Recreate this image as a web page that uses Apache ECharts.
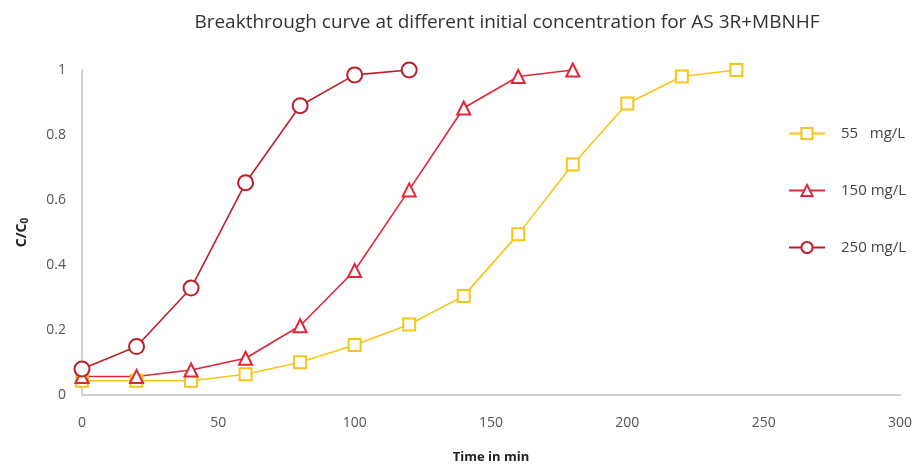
<!DOCTYPE html>
<html>
<head>
<meta charset="utf-8">
<script src="https://cdn.jsdelivr.net/npm/echarts@6/dist/echarts.min.js"></script>
<style>html,body{margin:0;padding:0;background:#fff}#c{width:915px;height:469px}</style>
</head>
<body>
<div id="c"></div>
<script>
var times55 = [0, 20, 40, 60, 80, 100, 120, 140, 160, 180, 200, 220, 240];
var vals55 = [0.044, 0.044, 0.044, 0.064, 0.101, 0.154, 0.217, 0.305, 0.495, 0.709, 0.897, 0.980, 1.0];
var times150 = [0, 20, 40, 60, 80, 100, 120, 140, 160, 180];
var vals150 = [0.057, 0.057, 0.077, 0.113, 0.213, 0.383, 0.631, 0.883, 0.980, 1.0];
var times250 = [0, 20, 40, 60, 80, 100, 120];
var vals250 = [0.080, 0.149, 0.329, 0.653, 0.890, 0.985, 1.0];
var seriesNames = ['55   mg/L', '150 mg/L', '250 mg/L'];
var titleText = 'Breakthrough curve at different initial concentration for AS 3R+MBNHF';

function pairs(xs, ys) { return xs.map(function (x, i) { return [x, ys[i]]; }); }

var chart = echarts.init(document.getElementById('c'), null, {renderer: 'canvas'});
var font = '"Open Sans", sans-serif';
chart.setOption({
  animation: false,
  backgroundColor: '#fff',
  title: {
    text: titleText, left: 502, top: 8, textAlign: 'center',
    textStyle: {fontFamily: font, fontSize: 19, fontWeight: 'normal', color: '#333'}
  },
  legend: {
    orient: 'vertical', left: 783, top: 121, itemGap: 42, itemWidth: 36, itemHeight: 14,
    textStyle: {fontFamily: font, fontSize: 15, color: '#444', padding: [0, 0, 0, 11]},
    data: seriesNames
  },
  grid: {left: 82, right: 15, top: 70, bottom: 72},
  xAxis: {
    type: 'value', min: 0, max: 300, interval: 50,
    name: 'Time in min', nameLocation: 'middle', nameGap: 56,
    nameTextStyle: {fontFamily: font, fontSize: 13, fontWeight: 'bold', color: '#222'},
    axisLine: {show: true, lineStyle: {color: '#d0d0d0', width: 2}},
    axisTick: {show: false}, splitLine: {show: false},
    axisLabel: {fontFamily: font, fontSize: 14, color: '#555', margin: 21}
  },
  yAxis: {
    type: 'value', min: 0, max: 1, interval: 0.2,
    name: '{a|C/C}{b|0}', nameLocation: 'middle', nameGap: 52, nameRotate: 90,
    nameTextStyle: {
      rich: {
        a: {fontFamily: font, fontSize: 14, fontWeight: 'bold', color: '#222'},
        b: {fontFamily: font, fontSize: 10, fontWeight: 'bold', color: '#222', padding: [6, 0, 0, 0]}
      }
    },
    axisLine: {show: true, lineStyle: {color: '#d0d0d0', width: 2}},
    axisTick: {show: false}, splitLine: {show: false},
    axisLabel: {fontFamily: font, fontSize: 14, color: '#555', margin: 16}
  },
  series: [
    {
      name: seriesNames[0], type: 'line', data: pairs(times55, vals55),
      symbol: 'emptyRect', symbolSize: 12,
      lineStyle: {color: '#F5C518', width: 1.6},
      itemStyle: {color: '#F5C518', borderWidth: 1.6}
    },
    {
      name: seriesNames[1], type: 'line', data: pairs(times150, vals150),
      symbol: 'emptyTriangle', symbolSize: 13,
      lineStyle: {color: '#E0263A', width: 1.6},
      itemStyle: {color: '#E0263A', borderWidth: 1.6}
    },
    {
      name: seriesNames[2], type: 'line', data: pairs(times250, vals250),
      symbol: 'emptyCircle', symbolSize: 15,
      lineStyle: {color: '#B8202C', width: 1.6},
      itemStyle: {color: '#B8202C', borderWidth: 1.6}
    }
  ]
});
</script>
</body>
</html>
